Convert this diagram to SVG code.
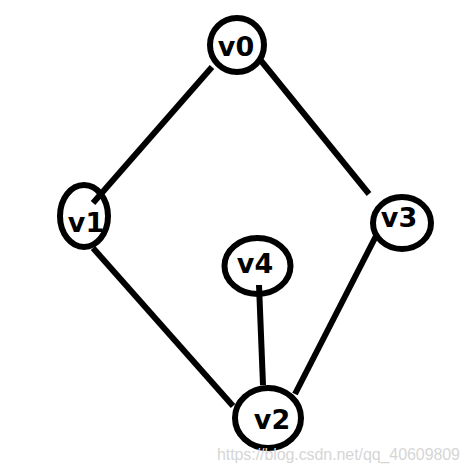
<svg xmlns="http://www.w3.org/2000/svg" width="470" height="473" viewBox="0 0 470 473">
<style>
.node ellipse{fill:#fff;stroke:#000;stroke-width:6}
.node ellipse.open{fill:none}
.node text{font-family:"DejaVu Sans",Verdana,sans-serif;font-weight:bold;font-size:27px;fill:#000;text-anchor:middle}
.edges line{stroke:#000;stroke-width:6;stroke-linecap:butt}
.wm{font-family:"Liberation Sans",Arial,sans-serif;font-size:16px;fill:#d6d6d6}
</style>
<rect width="470" height="473" fill="#fff"/>
<g id="edges" class="edges">
<line x1="212" y1="67" x2="93" y2="203"/>
<line x1="258" y1="57" x2="369" y2="194"/>
<line x1="93" y1="248" x2="233" y2="406"/>
<line x1="376" y1="236" x2="295" y2="394"/>
<line x1="259" y1="285" x2="263" y2="385"/>
</g>
<g id="v0" class="node">
<ellipse cx="237" cy="45" rx="27" ry="27"/>
<text x="236" y="56">v0</text>
</g>
<g id="v1" class="node">
<ellipse class="open" cx="84" cy="216" rx="24" ry="31"/>
<text x="86" y="232">v1</text>
</g>
<g id="v3" class="node">
<ellipse cx="402" cy="223" rx="29" ry="26"/>
<text x="399" y="227">v3</text>
</g>
<g id="v4" class="node">
<ellipse class="open" cx="257.5" cy="266" rx="33" ry="28"/>
<text x="255" y="273">v4</text>
</g>
<g id="v2" class="node">
<ellipse cx="268" cy="418" rx="33" ry="30"/>
<text x="272" y="429">v2</text>
</g>
<text class="wm" x="217" y="460" textLength="243">https://blog.csdn.net/qq_40609809</text>
</svg>
